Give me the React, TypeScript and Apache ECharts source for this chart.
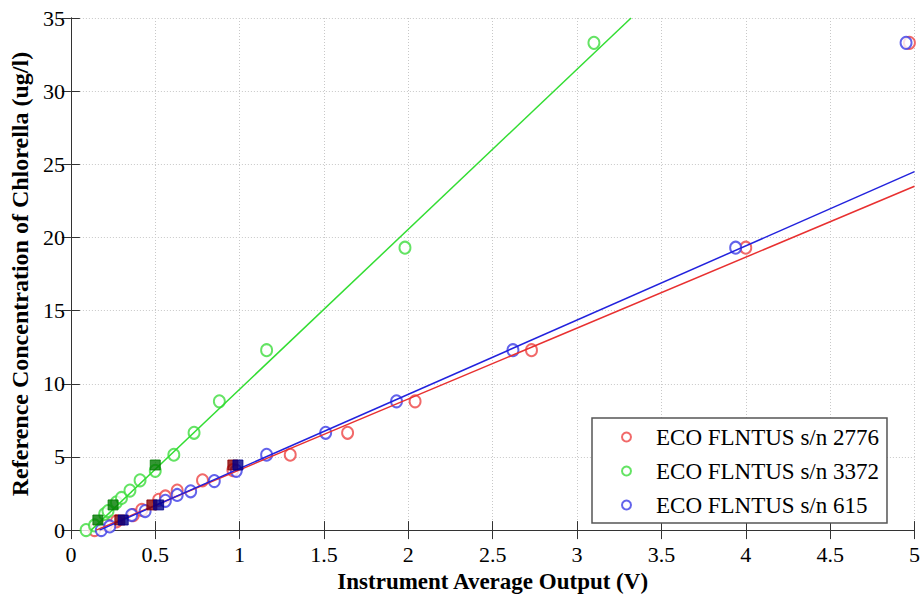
import React, { useEffect, useRef } from "react";
import * as echarts from "echarts";

const SERIES_NAMES = ["ECO FLNTUS s/n 2776", "ECO FLNTUS s/n 3372", "ECO FLNTUS s/n 615"];

const X_TICKS = [0, 0.5, 1, 1.5, 2, 2.5, 3, 3.5, 4, 4.5, 5];
const Y_TICKS = [0, 5, 10, 15, 20, 25, 30, 35];

// circles: [output (V), concentration (ug/l)]
const red2776 = [
  [0.14, 0], [0.21, 0.34], [0.27, 0.6], [0.37, 1.03], [0.42, 1.38], [0.52, 2.07],
  [0.56, 2.3], [0.63, 2.7], [0.78, 3.4], [0.96, 4.1], [1.30, 5.15], [1.64, 6.65],
  [2.04, 8.8], [2.73, 12.3], [4.0, 19.3], [4.97, 33.3],
];
const green3372 = [
  [0.09, 0], [0.14, 0.32], [0.2, 1.1], [0.22, 1.3], [0.27, 1.9], [0.3, 2.2],
  [0.35, 2.7], [0.41, 3.4], [0.5, 4.05], [0.61, 5.15], [0.73, 6.65], [0.88, 8.8],
  [1.16, 12.3], [1.98, 19.3], [3.1, 33.3],
];
const blue615 = [
  [0.18, 0], [0.23, 0.25], [0.36, 1.03], [0.44, 1.3], [0.56, 2.0], [0.63, 2.4],
  [0.71, 2.65], [0.85, 3.35], [0.98, 4.05], [1.16, 5.15], [1.51, 6.65], [1.93, 8.8],
  [2.62, 12.3], [3.94, 19.3], [4.95, 33.3],
];

// filled squares
const redSquares = [[0.29, 0.69], [0.48, 1.72], [0.96, 4.45]];
const greenSquares = [[0.16, 0.69], [0.25, 1.72], [0.5, 4.45]];
const blueSquares = [[0.31, 0.69], [0.52, 1.72], [0.99, 4.45]];

// fit lines
const redFit = [[0.15, 0], [5, 23.5]];
const greenFit = [[0.12, 0], [3.32, 35]];
const blueFit = [[0.17, 0], [5, 24.5]];

const FONT = "'Liberation Serif', 'Times New Roman', Times, serif";

export default function App() {
  const ref = useRef<HTMLDivElement>(null);
  useEffect(() => {
    if (!ref.current) return;
    const chart = echarts.init(ref.current, null, { renderer: "svg" });
    const circle = (name: string, data: number[][], color: string) => ({
      name,
      type: "scatter",
      data,
      symbol: "emptyCircle",
      symbolSize: [11, 12],
      itemStyle: { color, borderColor: color, borderWidth: 1.2 },
      z: 3,
    });
    const square = (name: string, data: number[][], color: string) => ({
      name,
      type: "scatter",
      data,
      symbol: "rect",
      symbolSize: 10,
      itemStyle: { color, borderColor: color },
      z: 5,
    });
    const fit = (name: string, data: number[][], color: string) => ({
      name,
      type: "line",
      data,
      showSymbol: false,
      symbol: "none",
      lineStyle: { color, width: 1.5 },
      z: 4,
    });
    const axisCommon = {
      min: 0,
      axisLine: { show: true, lineStyle: { color: "#333", width: 1 } },
      axisTick: { show: true, inside: true, length: 9, lineStyle: { color: "#333" } },
    };
    chart.setOption({
      animation: false,
      backgroundColor: "#fff",
      textStyle: { fontFamily: FONT },
      grid: { left: 68, right: 5, top: 18, bottom: 65, show: false },
      legend: {
        data: SERIES_NAMES,
        orient: "vertical",
        left: 592,
        top: 418,
        backgroundColor: "#fff",
        borderColor: "#555",
        borderWidth: 1.5,
        padding: [7, 8, 6, 29],
        itemGap: 10,
        itemWidth: 9,
        itemHeight: 9,
        icon: "emptyCircle",
        textStyle: { fontFamily: FONT, fontSize: 23, color: "#000", lineHeight: 24, padding: [0, 0, 0, 20] },
      },
      xAxis: [
        {
          ...axisCommon,
          type: "value",
          max: 5,
          interval: 0.5,
          name: "Instrument Average Output (V)",
          nameLocation: "middle",
          nameGap: 39,
          nameTextStyle: { fontFamily: FONT, fontSize: 23, fontWeight: "bold", color: "#000" },
          axisLabel: {
            fontFamily: FONT, fontSize: 22, color: "#000", margin: 13,
            formatter: (v: number) => (X_TICKS.includes(v) ? String(v) : ""),
          },
          splitLine: { show: true, lineStyle: { color: "#c8c8c8", type: [1, 2], width: 1 } },
        },
        {
          ...axisCommon,
          type: "value",
          position: "top",
          max: 5,
          interval: 0.5,
          axisLabel: { show: false },
          splitLine: { show: false },
        },
      ],
      yAxis: [
        {
          ...axisCommon,
          type: "value",
          max: 35,
          interval: 5,
          name: "Reference Concentration of Chlorella (ug/l)",
          nameLocation: "middle",
          nameGap: 25,
          nameTextStyle: { fontFamily: FONT, fontSize: 24, fontWeight: "bold", color: "#000" },
          axisLabel: {
            fontFamily: FONT, fontSize: 22, color: "#000", margin: 6,
            formatter: (v: number) => (Y_TICKS.includes(v) ? String(v) : ""),
          },
          splitLine: { show: true, lineStyle: { color: "#c8c8c8", type: [1, 2], width: 1 } },
        },
        {
          ...axisCommon,
          type: "value",
          position: "right",
          max: 35,
          interval: 5,
          axisLabel: { show: false },
          splitLine: { show: false },
        },
      ],
      series: [
        circle(SERIES_NAMES[0], red2776, "#ee4444"),
        circle(SERIES_NAMES[1], green3372, "#3ddc3d"),
        circle(SERIES_NAMES[2], blue615, "#3c3ce6"),
        fit("fit 2776", redFit, "#e83030"),
        fit("fit 3372", greenFit, "#33dd33"),
        fit("fit 615", blueFit, "#2222dd"),
        square("cal 2776", redSquares, "#8b0000"),
        square("cal 3372", greenSquares, "#007a00"),
        square("cal 615", blueSquares, "#00008b"),
      ],
    });
    return () => chart.dispose();
  }, []);
  return (
    <div
      ref={ref}
      style={{ position: "fixed", left: 0, top: 0, width: 923, height: 598, background: "#fff" }}
    />
  );
}
